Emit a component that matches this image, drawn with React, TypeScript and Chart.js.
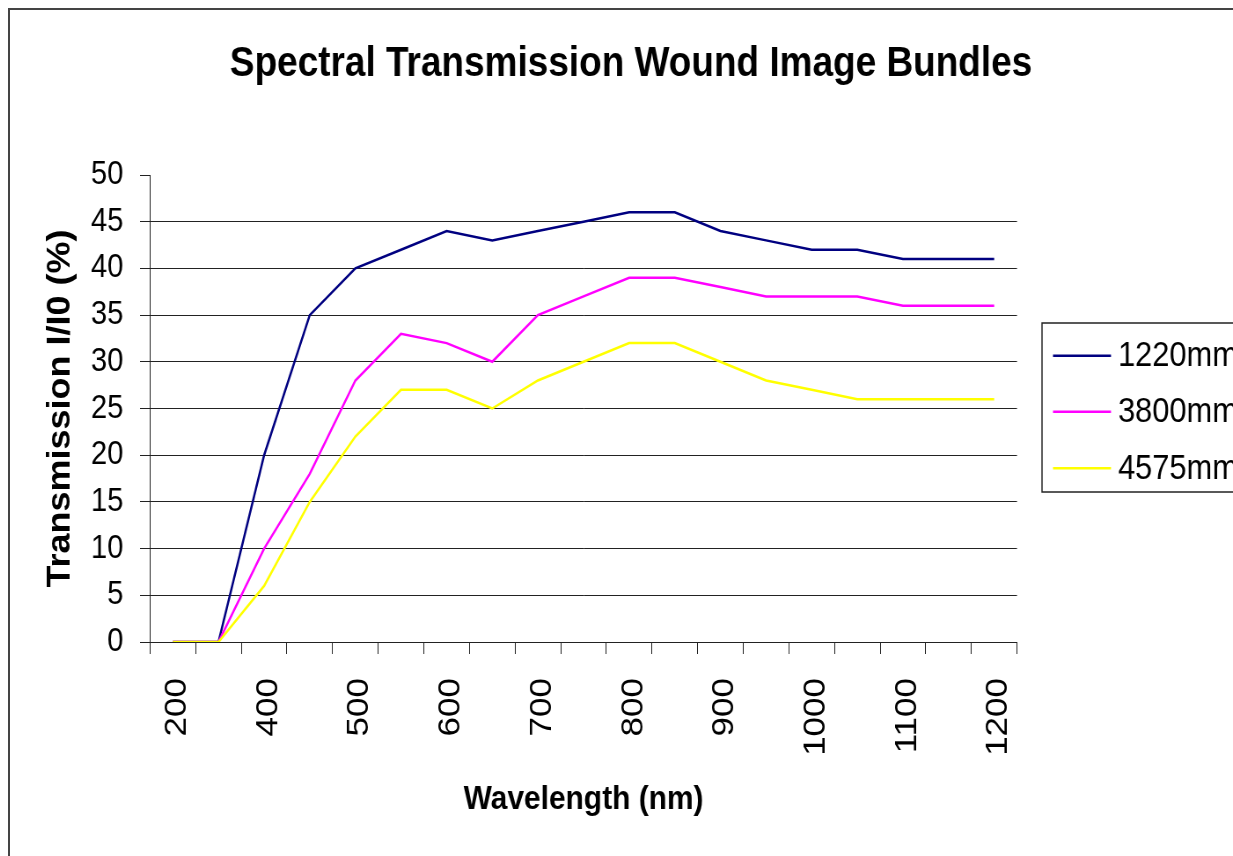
import React, { useEffect, useRef } from 'react';
import { Chart, registerables } from 'chart.js';

Chart.register(...registerables);

const chartTitle = 'Spectral Transmission Wound Image Bundles';
const xAxisTitle = 'Wavelength (nm)';
const yAxisTitle = 'Transmission I/I0 (%)';

const categories = ['200', '300', '400', '450', '500', '550', '600', '650', '700', '750', '800', '850', '900', '950', '1000', '1050', '1100', '1150', '1200'];
const series1220 = [0, 0, 20, 35, 40, 42, 44, 43, 44, 45, 46, 46, 44, 43, 42, 42, 41, 41, 41];
const series3800 = [0, 0, 10, 18, 28, 33, 32, 30, 35, 37, 39, 39, 38, 37, 37, 37, 36, 36, 36];
const series4575 = [0, 0, 6, 15, 22, 27, 27, 25, 28, 30, 32, 32, 30, 28, 27, 26, 26, 26, 26];
const seriesNames = ['1220mm', '3800mm', '4575mm'];
const seriesColors = ['#000080', '#FF00FF', '#FFFF00'];
const yMin = 0;
const yMax = 50;
const yStep = 5;

const SX = 0.88;
const CW = 1392;
const CH = 848;
const FONT = '"Liberation Sans", Arial, Helvetica, sans-serif';

const titlePlugin = {
  id: 'customTitle',
  afterDraw(chart: any) {
    const ctx = chart.ctx;
    ctx.save();
    ctx.font = `bold 42px ${FONT}`;
    ctx.fillStyle = '#000';
    ctx.textAlign = 'center';
    ctx.textBaseline = 'alphabetic';
    ctx.fillText(chartTitle, 708, 68);
    ctx.restore();
  },
};

const legendPlugin = {
  id: 'customLegend',
  afterDraw(chart: any) {
    const ctx = chart.ctx;
    const boxX = 1175;
    const boxY = 315;
    const boxW = 300;
    const boxH = 169;
    const rowYs = [347.7, 403.7, 460.3];
    ctx.save();
    ctx.strokeStyle = '#222';
    ctx.lineWidth = 1.5;
    ctx.strokeRect(boxX, boxY, boxW, boxH);
    chart.data.datasets.forEach((ds: any, i: number) => {
      const y = rowYs[i];
      ctx.strokeStyle = ds.borderColor;
      ctx.lineWidth = 2.5;
      ctx.beginPath();
      ctx.moveTo(1187.5, y);
      ctx.lineTo(1253.4, y);
      ctx.stroke();
      ctx.fillStyle = '#000';
      ctx.font = `35px ${FONT}`;
      ctx.textAlign = 'left';
      ctx.textBaseline = 'middle';
      ctx.fillText(ds.label, 1261.4, y + 1);
    });
    ctx.restore();
  },
};

export default function App() {
  const canvasRef = useRef<HTMLCanvasElement | null>(null);

  useEffect(() => {
    if (!canvasRef.current) return;
    Chart.defaults.font.family = FONT;
    const seriesValues = [series1220, series3800, series4575];
    const chart = new Chart(canvasRef.current, {
      type: 'line',
      data: {
        labels: categories,
        datasets: seriesValues.map((vals, i) => ({
          label: seriesNames[i],
          data: vals,
          borderColor: seriesColors[i],
          backgroundColor: seriesColors[i],
          borderWidth: 2.5,
          pointRadius: 0,
          tension: 0,
          fill: false,
          order: 3 - i,
        })),
      },
      options: {
        animation: false,
        responsive: false,
        events: [],
        layout: { padding: { left: 0, top: 167, right: CW - 1146.6, bottom: 24 } },
        plugins: {
          legend: { display: false },
          tooltip: { enabled: false },
          title: { display: false },
        },
        scales: {
          x: {
            type: 'category',
            offset: true,
            grid: {
              offset: true,
              drawOnChartArea: false,
              drawTicks: true,
              tickLength: 12,
              color: '#222',
              tickColor: '#222',
              lineWidth: 1,
            },
            border: { display: true, color: '#222', width: 1 },
            ticks: {
              autoSkip: false,
              minRotation: 90,
              maxRotation: 90,
              padding: 24,
              labelOffset: 5,
              color: '#000',
              font: { size: 35 },
              callback: (_v: any, i: number) => (i % 2 === 0 ? categories[i] : ''),
            },
            title: {
              display: true,
              text: xAxisTitle,
              color: '#000',
              font: { size: 34, weight: 'bold' },
              padding: { top: 0, bottom: 11.6 },
            },
            afterFit: (s: any) => {
              s.height = 190;
            },
          },
          y: {
            min: yMin,
            max: yMax,
            ticks: { stepSize: yStep, padding: 19, color: '#000', font: { size: 33 } },
            grid: {
              color: (c: any) => (c.tick && c.tick.value === yMax ? 'rgba(0,0,0,0)' : '#222'),
              tickColor: '#222',
              tickLength: 11.4,
              lineWidth: 1,
            },
            border: { display: true, color: '#222', width: 1 },
            title: {
              display: true,
              text: yAxisTitle,
              color: '#000',
              font: { size: 36, weight: 'bold' },
              padding: { top: 38.6, bottom: 0 },
            },
            afterFit: (s: any) => {
              s.width = 161.4;
            },
          },
        },
      } as any,
      plugins: [titlePlugin, legendPlugin],
    });
    return () => chart.destroy();
  }, []);

  return (
    <div
      style={{
        position: 'fixed',
        left: 8,
        top: 8,
        width: 1225,
        height: 848,
        overflow: 'hidden',
        background: '#fff',
      }}
    >
      <div style={{ width: CW, height: CH, transform: `scaleX(${SX})`, transformOrigin: '0 0' }}>
        <canvas ref={canvasRef} width={CW} height={CH} style={{ display: 'block' }} />
      </div>
      <div
        style={{
          position: 'absolute',
          left: 0,
          top: 0,
          right: 0,
          bottom: 0,
          borderLeft: '2px solid #444',
          borderTop: '2px solid #444',
          pointerEvents: 'none',
        }}
      />
    </div>
  );
}
